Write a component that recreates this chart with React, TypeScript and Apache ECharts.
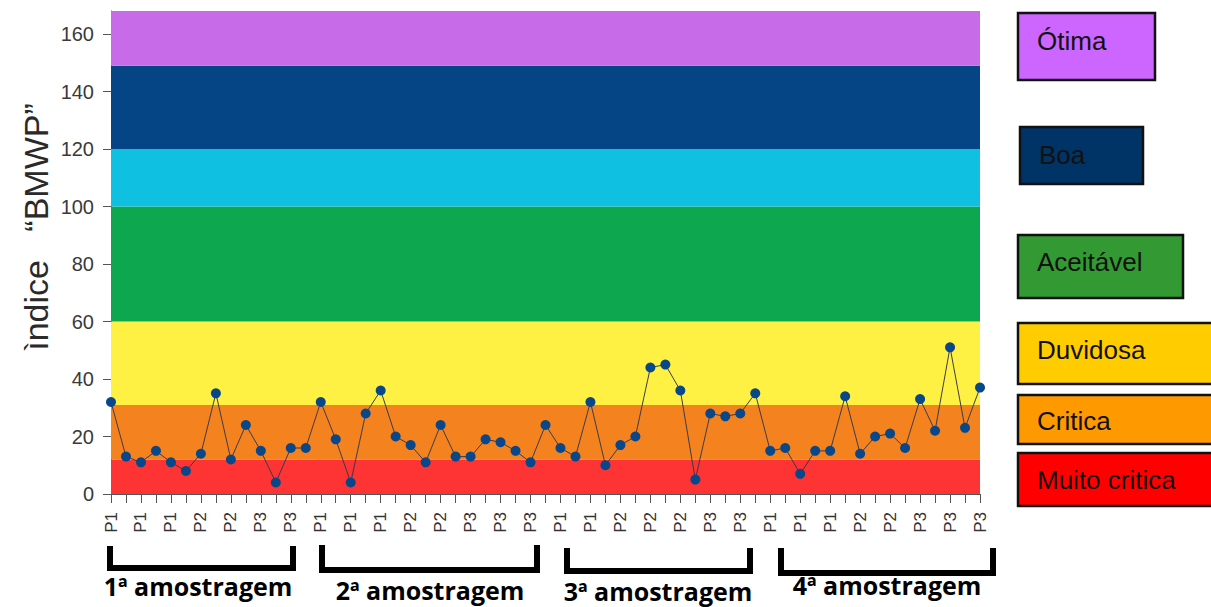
import React, { useEffect, useRef } from "react";
import * as echarts from "echarts";

const categories: string[] = [
  "P1","P1","P1","P1","P1","P2","P2","P2","P2","P2","P3","P3","P3","P3",
  "P1","P1","P1","P1","P1","P2","P2","P2","P2","P2","P3","P3","P3","P3","P3",
  "P1","P1","P1","P1","P1","P2","P2","P2","P2","P2","P3","P3","P3","P3","P3",
  "P1","P1","P1","P1","P1","P2","P2","P2","P2","P2","P3","P3","P3","P3","P3",
];

const bmwpValues: number[] = [
  32, 13, 11, 15, 11, 8, 14, 35, 12, 24, 15, 4, 16, 16,
  32, 19, 4, 28, 36, 20, 17, 11, 24, 13, 13, 19, 18, 15, 11,
  24, 16, 13, 32, 10, 17, 20, 44, 45, 36, 5, 28, 27, 28, 35,
  15, 16, 7, 15, 15, 34, 14, 20, 21, 16, 33, 22, 51, 23, 37,
];

const yTicks: number[] = [0, 20, 40, 60, 80, 100, 120, 140, 160];
const yMax = 168;

const bandBounds: [number, number][] = [
  [0, 12], [12, 31], [31, 60], [60, 100], [100, 120], [120, 149], [149, 168],
];
const bandColors: string[] = [
  "#fe3333", "#f4821f", "#fff143", "#0da750", "#0fc0e0", "#054585", "#c76be8",
];

const legendNames: string[] = ["Ótima", "Boa", "Aceitável", "Duvidosa", "Critica", "Muito critica"];
const legendColors: string[] = ["#cc66ff", "#003366", "#339933", "#ffcc00", "#ff9900", "#ff0000"];

const sampleNames: string[] = ["1ª amostragem", "2ª amostragem", "3ª amostragem", "4ª amostragem"];

const yAxisTitle = "ìndice   “BMWP”";

export default function App() {
  const ref = useRef<HTMLDivElement>(null);

  useEffect(() => {
    if (!ref.current) return;
    const chart = echarts.init(ref.current, undefined, { renderer: "svg" });

    // legend boxes geometry (layout, not data)
    const legendBoxes = [
      { x: 1018, y: 13, w: 137, h: 67, cy: 41 },
      { x: 1020, y: 127, w: 123, h: 57, cy: 155 },
      { x: 1018, y: 235, w: 165, h: 63, cy: 262 },
      { x: 1018, y: 323, w: 200, h: 61, cy: 350 },
      { x: 1018, y: 395, w: 200, h: 49, cy: 421 },
      { x: 1018, y: 453, w: 200, h: 53, cy: 480 },
    ];
    const legendGraphics: any[] = [];
    legendNames.forEach((name, i) => {
      const b = legendBoxes[i];
      legendGraphics.push({
        type: "rect",
        shape: { x: b.x, y: b.y, width: b.w, height: b.h },
        style: { fill: legendColors[i], stroke: "#111", lineWidth: 2.5 },
        silent: true,
      });
      legendGraphics.push({
        type: "text",
        x: b.x + 19,
        y: b.cy,
        style: {
          text: name,
          fill: "#111",
          font: '26px "Liberation Sans", Arial, sans-serif',
          textAlign: "left",
          textVerticalAlign: "middle",
        },
        silent: true,
      });
    });

    const brackets = [
      { x1: 110, x2: 293, y1: 546, y2: 568, tx: 198, ty: 586 },
      { x1: 322, x2: 537, y1: 545, y2: 570, tx: 430, ty: 590 },
      { x1: 567, x2: 750, y1: 548, y2: 571, tx: 658, ty: 591 },
      { x1: 781, x2: 993, y1: 548, y2: 573, tx: 887, ty: 585 },
    ];
    const bracketGraphics: any[] = [];
    sampleNames.forEach((name, i) => {
      const b = brackets[i];
      bracketGraphics.push({
        type: "polyline",
        shape: { points: [[b.x1, b.y1], [b.x1, b.y2], [b.x2, b.y2], [b.x2, b.y1]] },
        style: { stroke: "#000", lineWidth: 6, fill: null, lineJoin: "miter", lineCap: "butt" },
        silent: true,
      });
      bracketGraphics.push({
        type: "text",
        x: b.tx,
        y: b.ty,
        style: {
          text: name,
          fill: "#000",
          font: 'bold 25px "Open Sans", sans-serif',
          textAlign: "center",
          textVerticalAlign: "middle",
        },
        silent: true,
      });
    });

    chart.setOption({
      animation: false,
      backgroundColor: "#ffffff",
      grid: { left: 111, right: 231, top: 11, bottom: 113, containLabel: false },
      xAxis: {
        type: "category",
        data: categories,
        boundaryGap: false,
        axisLine: { show: true, lineStyle: { color: "#555", width: 1 } },
        axisTick: { show: true, interval: 0, length: 9, lineStyle: { color: "#555" } },
        axisLabel: {
          interval: 1,
          rotate: 90,
          margin: 18,
          color: "#333",
          fontSize: 17,
          fontFamily: '"Liberation Sans", Arial, sans-serif',
        },
        splitLine: { show: false },
      },
      yAxis: {
        type: "value",
        min: 0,
        max: yMax,
        interval: 20,
        axisLine: { show: true, lineStyle: { color: "#555", width: 1 } },
        axisTick: { show: true, length: 8, customValues: yTicks, lineStyle: { color: "#555" } },
        axisLabel: {
          customValues: yTicks,
          margin: 17,
          color: "#3a3a3a",
          fontSize: 20,
          fontFamily: '"Liberation Sans", Arial, sans-serif',
        },
        splitLine: { show: false },
      },
      graphic: [
        {
          type: "text",
          x: 36,
          y: 227,
          rotation: Math.PI / 2,
          style: {
            text: yAxisTitle,
            fill: "#2a2a2a",
            font: '34px "Liberation Sans", Arial, sans-serif',
            textAlign: "center",
            textVerticalAlign: "middle",
          },
          silent: true,
        },
        ...legendGraphics,
        ...bracketGraphics,
      ],
      series: [
        {
          type: "line",
          name: "BMWP",
          data: bmwpValues,
          z: 3,
          symbol: "circle",
          symbolSize: 10,
          showSymbol: true,
          showAllSymbol: true,
          lineStyle: { color: "#3b3b4a", width: 1 },
          itemStyle: { color: "#08488a" },
          emphasis: { disabled: true },
          markArea: {
            silent: true,
            z: 1,
            label: { show: false },
            data: bandBounds.map((b, i) => [
              { yAxis: b[0], itemStyle: { color: bandColors[i], opacity: 1 } },
              { yAxis: b[1] },
            ]),
          },
        },
      ],
    });

    return () => chart.dispose();
  }, []);

  return (
    <div
      ref={ref}
      style={{ position: "fixed", left: 0, top: 0, width: 1211, height: 607 }}
    />
  );
}
